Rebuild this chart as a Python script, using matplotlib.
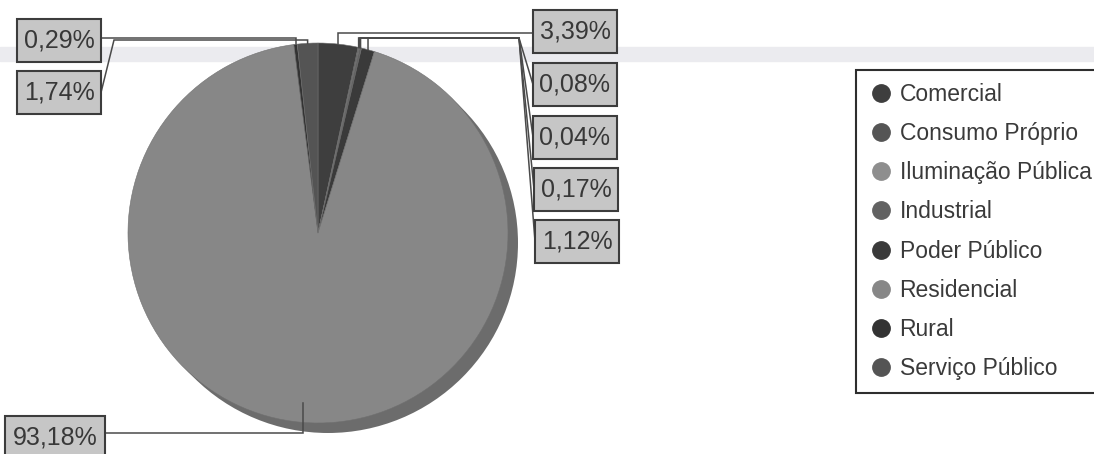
import matplotlib
matplotlib.use("Agg")
import matplotlib.pyplot as plt
from matplotlib.patches import Rectangle, Circle
from matplotlib.lines import Line2D
import numpy as np

plt.rcParams['font.family'] = ['Liberation Sans', 'DejaVu Sans']

# data
categories = ['Comercial', 'Consumo Próprio', 'Iluminação Pública', 'Industrial',
              'Poder Público', 'Residencial', 'Rural', 'Serviço Público']
shares = [3.39, 0.08, 0.04, 0.17, 1.12, 93.18, 0.29, 1.74]
colors = ['#3e3e3e', '#555555', '#8e8e8e', '#626262',
          '#3a3a3a', '#878787', '#333333', '#545454']

W, H = 1094, 454


def py(y):
    # pixel row -> data y
    return H - y


# label layout in pixels: box centre, box width, elbow point, anchor radius fraction
box_centres = [(575, 31.5), (575, 84.5), (575, 137), (576, 189), (577, 241),
               (55, 437), (59, 40.5), (59, 92.5)]
box_widths = [84, 84, 84, 84, 84, 100, 84, 84]
elbows = [(533, 33), (519, 38), (519, 38), (519, 38), (519, 38),
          (105, 433), (101, 38), (114, 40)]
anchor_frac = [1, 1, 1, 1, 1, 0.9, 1, 1]
box_h = 43

cx, cy, r = 318, 233, 190

fig = plt.figure(figsize=(W / 100, H / 100), dpi=100)
ax = fig.add_axes([0, 0, 1, 1])

# faint scanner band
ax.axhspan(py(61), py(47), color='#ebebef', zorder=0)

# 3d rim of the pie
ax.add_patch(Circle((cx + 10, py(cy + 10)), r, facecolor='#6c6c6c', edgecolor='none', zorder=1))

wedges, _ = ax.pie(shares, colors=colors, startangle=90, counterclock=False,
                   center=(cx, py(cy)), radius=r,
                   wedgeprops=dict(edgecolor='#707070', linewidth=0.4))
for w in wedges:
    w.set_zorder(2)

# labels and leader lines
for i, w in enumerate(wedges):
    th = np.deg2rad((w.theta1 + w.theta2) / 2)
    axp = cx + r * anchor_frac[i] * np.cos(th)
    ayp = py(cy) + r * anchor_frac[i] * np.sin(th)

    bx, by = box_centres[i]
    bw = box_widths[i]
    ex, ey = elbows[i]
    edge_x = bx - bw / 2 if bx > cx else bx + bw / 2
    if by - box_h / 2 <= ey <= by + box_h / 2:
        att_y = ey
    else:
        att_y = by
    xs = [edge_x, ex, axp, axp]
    ys = [py(att_y), py(ey), py(ey), ayp]
    ax.plot(xs, ys, color='#4a4a4a', lw=1.1, zorder=3, solid_joinstyle='miter')

    ax.add_patch(Rectangle((bx - bw / 2, py(by + box_h / 2)), bw, box_h,
                           facecolor='#c6c6c6', edgecolor='#3c3c3c', lw=1.5, zorder=4))
    txt = f"{shares[i]:.2f}".replace('.', ',') + '%'
    ax.text(bx, py(by), txt, ha='center', va='center', fontsize=18,
            color='#383838', zorder=5)

ax.set_xlim(0, W)
ax.set_ylim(0, H)
ax.set_aspect('equal')
ax.axis('off')

handles = [Line2D([], [], marker='o', linestyle='none', markersize=12.5,
                  markerfacecolor=c, markeredgecolor=c) for c in colors]
leg = fig.legend(handles, categories, loc='upper left',
                 bbox_to_anchor=(856 / W, 1 - 70 / H), fontsize=16.5,
                 frameon=True, fancybox=False, framealpha=1, edgecolor='#2e2e2e',
                 labelspacing=0.71, handletextpad=0.25, handlelength=1.1,
                 borderpad=0.55, borderaxespad=0)
leg.get_frame().set_linewidth(1.5)
for t in leg.get_texts():
    t.set_color('#3a3a3a')

fig.savefig('out.png', dpi=100, facecolor='white')
